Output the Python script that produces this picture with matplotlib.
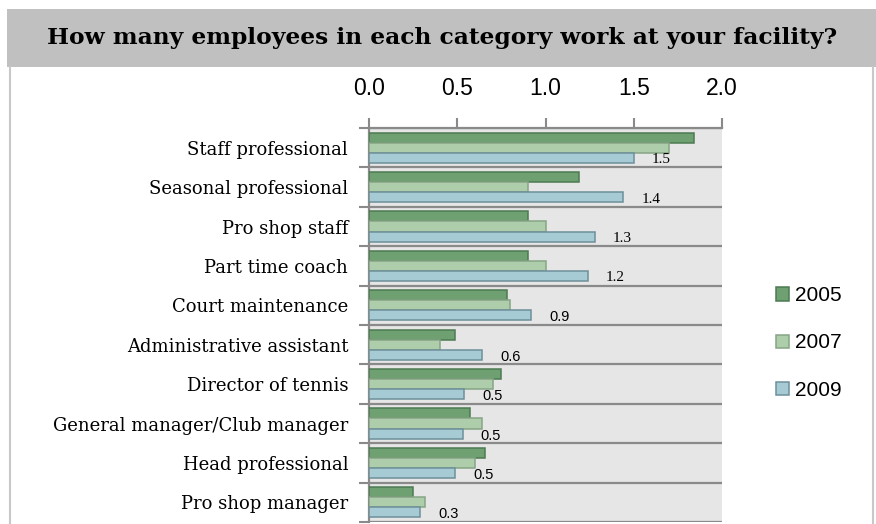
import matplotlib
matplotlib.use("Agg")
import matplotlib.pyplot as plt
import matplotlib.patches as mpatches
from matplotlib.lines import Line2D
import numpy as np

# Survey data: average number of employees per category
categories = [
    "Staff professional",
    "Seasonal professional",
    "Pro shop staff",
    "Part time coach",
    "Court maintenance",
    "Administrative assistant",
    "Director of tennis",
    "General manager/Club manager",
    "Head professional",
    "Pro shop manager",
]
years = ["2005", "2007", "2009"]
v2005 = [1.84, 1.19, 0.90, 0.90, 0.78, 0.49, 0.75, 0.57, 0.66, 0.25]
v2007 = [1.70, 0.90, 1.00, 1.00, 0.80, 0.40, 0.70, 0.64, 0.60, 0.32]
v2009 = [1.50, 1.44, 1.28, 1.24, 0.92, 0.64, 0.54, 0.53, 0.49, 0.29]
xticks = [0.0, 0.5, 1.0, 1.5, 2.0]

face_colors = ["#6fa072", "#aecdab", "#a7cbd5"]
edge_colors = ["#4d7a52", "#86a585", "#6d8f9b"]
sep_color = "#8a8a8a"

W, H = 876, 524
fig = plt.figure(figsize=(W / 100, H / 100), dpi=100)

# Title banner and page frame
fig.patches.append(mpatches.Rectangle((7 / W, 1 - 67 / H), 1 - 7 / W, 58 / H,
                                      transform=fig.transFigure,
                                      facecolor="#c0c0c0", edgecolor="none", zorder=0))
for xb in (10, 873):
    fig.add_artist(Line2D([xb / W, xb / W], [0, 1 - 67 / H], transform=fig.transFigure,
                          color="#c8c8c8", lw=1.5))
fig.text(442 / W, 1 - 38 / H, "How many employees in each category work at your facility?",
         ha="center", va="center", fontsize=16.8, fontweight="bold",
         family="DejaVu Serif")

ax = fig.add_axes([369 / W, 1 - 522 / H, 353 / W, 394 / H])
ax.set_facecolor("#e6e6e6")

n = len(categories)
y = np.arange(n)
bh = 0.254
for k, (vals, fc, ec) in enumerate(zip([v2005, v2007, v2009], face_colors, edge_colors)):
    ax.barh(y + (k - 1) * bh, vals, height=bh, color=fc, edgecolor=ec,
            linewidth=1.1, label=years[k], zorder=3)

# Value labels for the latest survey year
for i, v in enumerate(v2009):
    ax.annotate(f"{v:.1f}", xy=(v, i + bh), xytext=(13, -1.5), textcoords="offset points",
                ha="left", va="center", fontsize=11 if v >= 1 else 10.5,
                family="Liberation Serif" if v >= 1 else "Liberation Sans", zorder=4)

ax.set_xlim(0, 2.0)
ax.set_ylim(n - 0.5, -0.5)

# Category separators
for b in np.arange(n + 1) - 0.5:
    ax.axhline(b, color=sep_color, lw=1.6, zorder=2)

ax.xaxis.tick_top()
ax.set_xticks(xticks)
ax.set_xticklabels([f"{t:.1f}" for t in xticks], family="Liberation Sans", fontsize=16.5)
ax.tick_params(axis="x", which="major", direction="out", length=7, width=1.5,
               color=sep_color, pad=13)

ax.set_yticks(np.arange(n + 1) - 0.5)
ax.set_yticklabels([])
ax.set_yticks(y, minor=True)
ax.set_yticklabels(categories, minor=True, family="DejaVu Serif", fontsize=13)
ax.tick_params(axis="y", which="major", direction="out", length=7, width=1.5, color=sep_color)
ax.tick_params(axis="y", which="minor", length=0, pad=15)

for side in ("right", "bottom"):
    ax.spines[side].set_visible(False)
for side in ("left", "top"):
    ax.spines[side].set_color(sep_color)
    ax.spines[side].set_linewidth(1.6)

handles, labels = ax.get_legend_handles_labels()
fig.legend(handles, labels, loc="center left", bbox_to_anchor=(768 / W, 1 - 343 / H),
           frameon=False, prop={"family": "Liberation Sans", "size": 15},
           handlelength=0.6, handleheight=0.6, handletextpad=0.3, labelspacing=1.35,
           borderaxespad=0)

fig.savefig("out.png", dpi=100)
